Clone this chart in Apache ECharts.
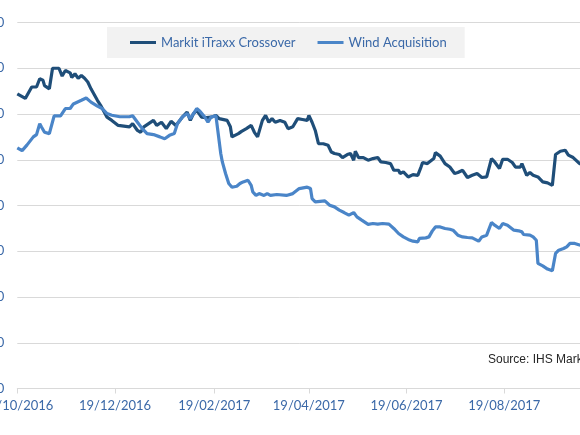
<!DOCTYPE html>
<html>
<head>
<meta charset="utf-8">
<script src="https://cdn.jsdelivr.net/npm/echarts@6/dist/echarts.min.js"></script>
<style>
  html, body { margin: 0; padding: 0; background: #fff; }
  #display { width: 580px; height: 435px; }
</style>
</head>
<body>
<div id="display"></div>
<script>
// days counted from 19/10/2016
var startDate = Date.UTC(2016, 9, 19);
var dayCount = 361;

var tickLabels = ['19/10/2016', '19/12/2016', '19/02/2017', '19/04/2017', '19/06/2017', '19/08/2017'];
var yTicks = [0, 50, 100, 150, 200, 250, 300, 350, 400];

var xoverDays = [0, 5, 9, 12, 14, 16, 17, 20, 22, 26, 28, 30, 33, 34, 36, 38, 40, 42, 44, 46,
    50, 52, 56, 59, 63, 64, 70, 72, 75, 77, 79, 82, 85, 87, 90, 93, 96, 99, 103, 106,
    108, 110, 112, 115, 118, 121, 124, 126, 131, 133, 134, 138, 140, 143, 146, 148, 150, 153, 155, 157,
    159, 161, 164, 167, 169, 172, 175, 178, 181, 182, 184, 186, 188, 191, 192, 194, 196, 198, 201, 203,
    206, 208, 210, 211, 213, 216, 219, 222, 225, 227, 230, 233, 235, 238, 239, 241, 244, 247, 250, 252,
    253, 256, 260, 261, 264, 267, 270, 273, 275, 278, 281, 284, 287, 290, 293, 296, 298, 301, 303, 306,
    309, 311, 314, 315, 318, 320, 322, 325, 328, 331, 334, 336, 339, 342, 344, 347, 351, 354];
var xoverValues = [322, 317, 329.5, 329.5, 338.5, 337, 331, 327.5, 350, 350, 341.5, 347.5, 345, 340, 344, 339, 342, 339, 335, 327.5,
    315, 309.5, 296.5, 293, 287.5, 286, 286, 289.5, 282, 280, 286, 289.5, 293, 287.5, 291, 284, 292, 287.5, 296.5, 302,
    293, 300.5, 304, 296.5, 296, 296.5, 298.5, 295, 293, 286, 275, 278.5, 281, 284, 287.5, 280, 275, 293, 298.5, 291,
    295, 291, 293, 291, 284, 286, 295, 294, 293, 298.5, 291, 282, 267.5, 267.5, 265.8, 265.8, 258.5, 256.8, 255.7, 252.4,
    255.7, 256.8, 249.5, 259.3, 252.4, 252.4, 249.5, 251.3, 252.4, 247.6, 247, 245.8, 238.5, 238.5, 235, 236.7, 231.2, 233.8, 233, 242,
    247, 245.8, 251.3, 257.8, 254, 245.8, 242, 235, 236, 238.5, 230.6, 233, 235, 230.6, 231.2, 251.3, 247.6, 240.4, 250.5, 250.5,
    247, 242, 242, 245.8, 233, 236, 233, 231.2, 225.8, 224.7, 222, 255.7, 259.3, 260.4, 255, 252.4, 245.8, 244];

var windDays = [0, 3, 6, 10, 12, 14, 15, 17, 20, 23, 27, 30, 33, 35, 40, 43, 46, 50, 53, 56,
    59, 64, 70, 72, 75, 78, 81, 85, 89, 92, 95, 98, 100, 103, 106, 108, 110, 112, 114, 117,
    119, 121, 124, 125, 127, 128, 130, 132, 134, 137, 139, 141, 144, 146, 147, 149, 151, 154, 156, 158,
    162, 168, 172, 176, 181, 183, 184, 186, 189, 192, 195, 198, 201, 204, 207, 210, 212, 215, 219, 222,
    225, 228, 232, 235, 238, 241, 244, 247, 250, 251, 255, 257, 259, 261, 264, 267, 270, 272, 275, 278,
    281, 284, 288, 290, 293, 296, 298, 301, 303, 306, 310, 313, 315, 316, 320, 322, 324, 325, 328, 331,
    334, 336, 338, 341, 343, 345, 348, 351, 354];
var windValues = [263, 260, 266, 275, 277.5, 289.5, 286, 280, 278.6, 298, 298, 306, 306, 311, 315, 317.5, 313, 308.7, 306, 300.5,
    298.6, 297, 297, 298, 291, 284, 278.6, 277.5, 275, 273, 276.7, 278.6, 289.5, 296.7, 300.5, 295, 300.5, 306, 303, 296.7,
    291, 296.7, 298, 297, 256.8, 247.6, 235, 224, 220, 221, 224, 225.8, 227.6, 222, 214.8, 211, 213, 211, 213, 211,
    212, 211, 213, 218.5, 220, 218.5, 207.6, 204, 204.5, 205, 200.3, 198.5, 194.9, 192.3, 189.4, 192.3, 187.6, 184, 179.3, 180.3,
    179.6, 180.3, 179.6, 174.9, 169.4, 165.7, 162.9, 161, 160.3, 164, 164.6, 165.7, 172, 176.6, 176.6, 174.9, 174, 173, 167.6, 165.7,
    165, 164.6, 161, 165.7, 167.6, 181.4, 178.5, 174.9, 180.3, 178.5, 173, 172.3, 171.2, 168.3, 167.6, 165.7, 162, 136.7, 134, 130.5,
    128.6, 147.6, 151.2, 153, 154.8, 158.5, 158.5, 156.8, 157];

function dayLabel(i) {
    var d = new Date(startDate + i * 86400000);
    var dd = ('0' + d.getUTCDate()).slice(-2);
    var mm = ('0' + (d.getUTCMonth() + 1)).slice(-2);
    return dd + '/' + mm + '/' + d.getUTCFullYear();
}

var categories = [];
for (var i = 0; i < dayCount; i++) {
    categories.push(dayLabel(i));
}

function isTick(idx, value) {
    return tickLabels.indexOf(value) >= 0;
}

function pairs(days, values) {
    return days.map(function (d, k) { return [d, values[k]]; });
}

var labelBlue = '#3b69a8';
var gridGray = '#d9d9d9';

var option = {
    animation: false,
    backgroundColor: '#ffffff',
    grid: {left: 17.3, right: -14, top: 22.5, bottom: 46.5, containLabel: false, outerBoundsMode: 'none'},
    legend: {
        left: 107, top: 27,
        padding: [9, 18, 9, 23],
        itemGap: 22, itemWidth: 26, itemHeight: 3,
        icon: 'rect',
        backgroundColor: '#f2f2f2',
        textStyle: {fontFamily: 'Lato', fontSize: 13, color: labelBlue},
        data: ['Markit iTraxx Crossover', 'Wind Acquisition']
    },
    xAxis: {
        type: 'category',
        data: categories,
        boundaryGap: false,
        axisLine: {lineStyle: {color: gridGray, width: 1}},
        axisTick: {show: true, interval: isTick, length: 5, lineStyle: {color: gridGray}},
        axisLabel: {interval: isTick, margin: 11, fontFamily: 'Lato', fontSize: 13, color: labelBlue},
        splitLine: {show: false}
    },
    yAxis: {
        type: 'value',
        min: yTicks[0], max: yTicks[yTicks.length - 1], interval: 50,
        axisLine: {show: false},
        axisTick: {show: false},
        axisLabel: {margin: 13, fontFamily: 'Lato', fontSize: 13, color: labelBlue},
        splitLine: {lineStyle: {color: gridGray, width: 1}}
    },
    graphic: [{
        type: 'text', left: 488, top: 354,
        style: {text: 'Source: IHS Markit', font: '12px "Liberation Sans", Arial, sans-serif', fill: '#262626'}
    }],
    series: [{
        name: 'Markit iTraxx Crossover',
        type: 'line',
        data: pairs(xoverDays, xoverValues),
        showSymbol: false,
        color: '#1f4e79',
        lineStyle: {width: 3.2, color: '#1f4e79'}
    }, {
        name: 'Wind Acquisition',
        type: 'line',
        data: pairs(windDays, windValues),
        showSymbol: false,
        color: '#4a85c8',
        lineStyle: {width: 3.2, color: '#4a85c8'}
    }]
};

var myChart = echarts.init(document.getElementById('display'));
myChart.setOption(option);
</script>
</body>
</html>
